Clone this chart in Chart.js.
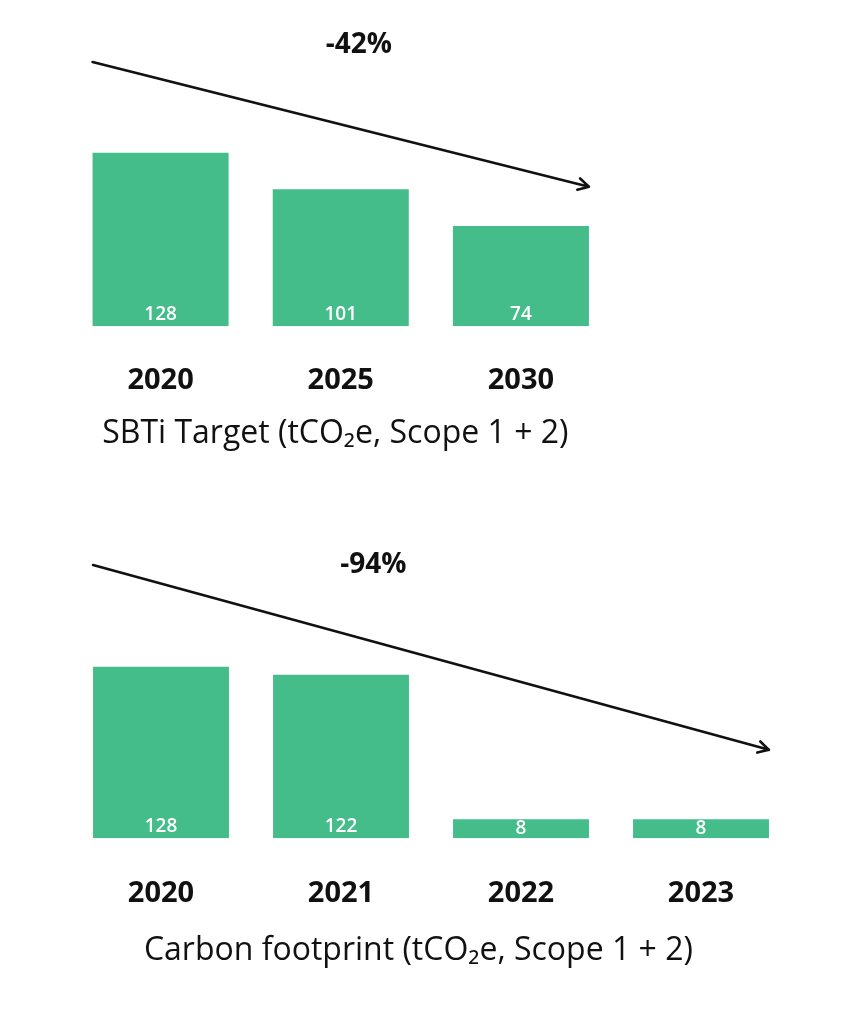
<!DOCTYPE html>
<html>
<head>
<meta charset="utf-8">
<script src="https://cdn.jsdelivr.net/npm/chart.js@4.4.1/dist/chart.umd.min.js"></script>
<style>
	html, body { margin: 0; background: #fff; }
	.box { position: absolute; left: 0; width: 863px; }
</style>
</head>
<body>
<div class="box" style="top:0;height:480px"><canvas id="target"></canvas></div>
<div class="box" style="top:490px;height:530px"><canvas id="footprint"></canvas></div>
<script>
// SBTi target
const targetYears = [`2020`, `2025`, `2030`];
const targetValues = [128, 101, 74];
const targetTrend = [195, 103]; // arrow start / end, in axis units
const targetChange = `-42%`;
const targetCaption = `SBTi Target (tCO₂e, Scope 1 + 2)`;

// carbon footprint
const footprintYears = [`2020`, `2021`, `2022`, `2023`];
const footprintValues = [128, 122, 8, 8];
const footprintTrend = [204, 66];
const footprintChange = `-94%`;
const footprintCaption = `Carbon footprint (tCO₂e, Scope 1 + 2)`;

const GREEN = `#45bd8b`;
const INK = `#111111`;
const FONT = `"Open Sans", Lato, sans-serif`;

const decorations = {
	id: `decorations`,
	afterDatasetsDraw(chart, _args, opts) {
		const { ctx, chartArea, scales } = chart;
		const bars = chart.getDatasetMeta(0).data;
		ctx.save();

		// value inside each bar, near its base
		ctx.fillStyle = `#ffffff`;
		ctx.font = `600 19px ${FONT}`;
		ctx.textAlign = `center`;
		ctx.textBaseline = `middle`;
		bars.forEach((bar, i) => {
			const y = Math.max(bar.base - 12, (bar.y + bar.base) / 2);
			ctx.fillText(String(chart.data.datasets[0].data[i]), bar.x, y);
		});

		// trend arrow from left edge of first bar to right edge of last bar
		const first = bars[0];
		const last = bars[bars.length - 1];
		const x0 = first.x - first.width / 2;
		const x1 = last.x + last.width / 2;
		const y0 = scales.y.getPixelForValue(opts.trend[0]);
		const y1 = scales.y.getPixelForValue(opts.trend[1]);
		ctx.strokeStyle = INK;
		ctx.lineWidth = 2.6;
		ctx.lineCap = `round`;
		ctx.lineJoin = `round`;
		ctx.beginPath();
		ctx.moveTo(x0, y0);
		ctx.lineTo(x1, y1);
		const ang = Math.atan2(y1 - y0, x1 - x0);
		const head = 12;
		ctx.moveTo(x1 - head * Math.cos(ang - 0.5), y1 - head * Math.sin(ang - 0.5));
		ctx.lineTo(x1, y1);
		ctx.lineTo(x1 - head * Math.cos(ang + 0.5), y1 - head * Math.sin(ang + 0.5));
		ctx.stroke();

		// percentage change
		ctx.fillStyle = INK;
		ctx.font = `bold 28px ${FONT}`;
		ctx.fillText(
			opts.change,
			scales.x.getPixelForValue(opts.changeAt[0]),
			scales.y.getPixelForValue(opts.changeAt[1]),
		);

		// caption under the years
		ctx.font = `32px ${FONT}`;
		ctx.fillText(
			opts.caption,
			scales.x.getPixelForValue(opts.captionAt[0]),
			chartArea.bottom + opts.captionAt[1],
		);
		ctx.restore();
	},
};

function makeChart(id, labels, values, cfg) {
	return new Chart(document.getElementById(id), {
		type: `bar`,
		data: {
			labels,
			datasets: [{
				data: values,
				backgroundColor: GREEN,
				borderWidth: 0,
				barPercentage: 0.755,
				categoryPercentage: 1,
				minBarLength: cfg.minBar ?? 0,
			}],
		},
		options: {
			responsive: true,
			maintainAspectRatio: false,
			animation: false,
			layout: { padding: cfg.padding },
			plugins: {
				legend: { display: false },
				tooltip: { enabled: false },
				decorations: {
					trend: cfg.trend,
					change: cfg.change,
					changeAt: cfg.changeAt,
					caption: cfg.caption,
					captionAt: cfg.captionAt,
				},
			},
			scales: {
				x: {
					grid: { display: false, drawTicks: false },
					border: { display: false },
					ticks: {
						color: INK,
						padding: cfg.tickPadding,
						font: { family: FONT, size: 29, weight: `bold` },
					},
				},
				y: {
					display: false,
					min: 0,
					max: cfg.yMax,
				},
			},
		},
		plugins: [decorations],
	});
}

makeChart(`target`, targetYears, targetValues, {
	yMax: 195,
	padding: { left: 70.5, right: 252, top: 62, bottom: 45 },
	tickPadding: 37,
	trend: targetTrend,
	change: targetChange,
	changeAt: [1.1, 207.5],
	caption: targetCaption,
	captionAt: [0.97, 108],
});

makeChart(`footprint`, footprintYears, footprintValues, {
	yMax: 204,
	minBar: 19,
	padding: { left: 71, right: 72, top: 75, bottom: 71 },
	tickPadding: 38,
	trend: footprintTrend,
	change: footprintChange,
	changeAt: [1.18, 204],
	caption: footprintCaption,
	captionAt: [1.43, 113],
});
</script>
</body>
</html>
